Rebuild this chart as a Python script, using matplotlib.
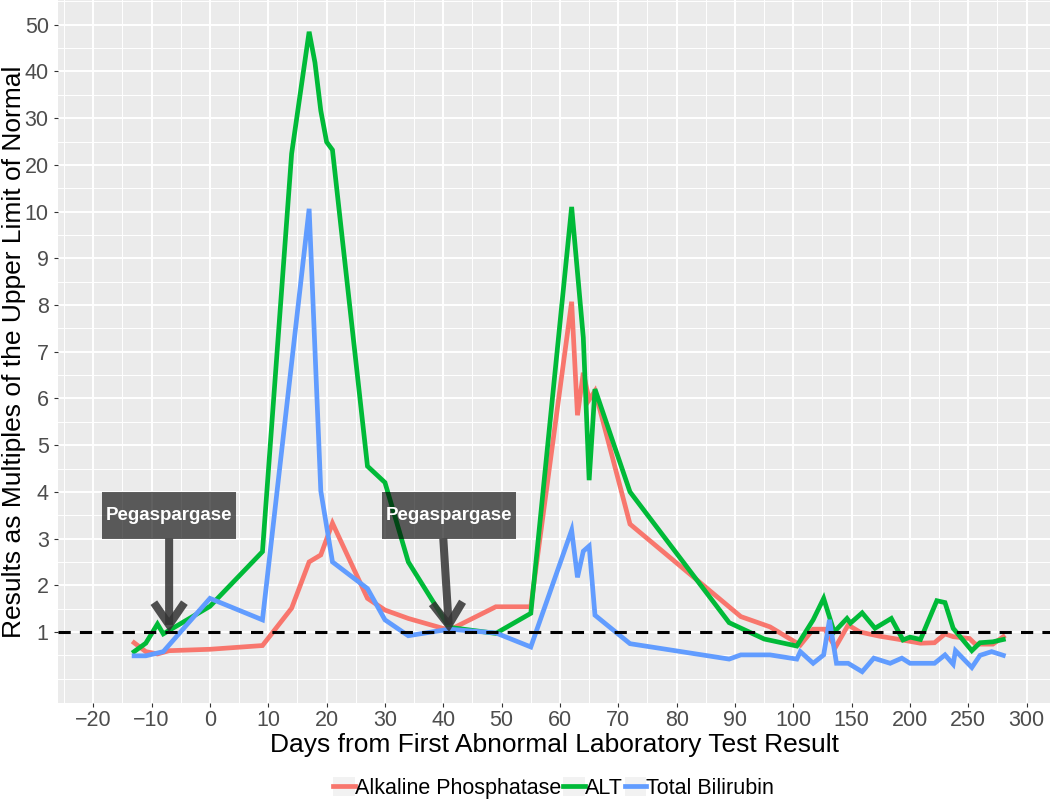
import numpy as np
import matplotlib
matplotlib.use("Agg")
import matplotlib.pyplot as plt
from matplotlib.patches import Rectangle, FancyArrowPatch, Patch, ArrowStyle
from matplotlib.lines import Line2D
from matplotlib.legend_handler import HandlerTuple


# values, in days and multiples of the ULN
alp_days = [-13, -11, -9, -7, 0, 9, 14, 17, 19, 21, 27, 30, 34, 41, 49, 55,
            62, 63, 64, 65, 66, 72, 91, 96, 106, 117, 127, 136, 147, 157,
            174, 191, 209, 221, 230, 237, 251, 256, 271, 280]
alp_vals = [0.77, 0.58, 0.53, 0.6, 0.63, 0.71, 1.51, 2.5, 2.65, 3.33, 1.72,
            1.47, 1.29, 1.04, 1.54, 1.54, 8.07, 5.64, 6.55, 5.97, 6.16, 3.31,
            1.33, 1.11, 0.72, 1.06, 1.06, 0.67, 1.15, 1.0, 0.91, 0.84, 0.76,
            0.77, 0.96, 0.9, 0.86, 0.74, 0.74, 0.9]

alt_days = [-13, -11, -9, -8, 0, 9, 14, 17, 18, 19, 20, 21, 27, 30, 34, 41,
            49, 55, 62, 64, 65, 66, 72, 89, 95, 103, 117, 126, 135, 146, 149,
            159, 170, 184, 194, 200, 209, 223, 230, 237, 253, 260, 271, 280]
alt_vals = [0.58, 0.76, 1.17, 0.96, 1.55, 2.72, 22.4, 48.5, 41.9, 31.6, 24.9,
            23.2, 4.55, 4.2, 2.5, 1.1, 0.97, 1.4, 11.0, 7.3, 4.25, 6.2, 4.0,
            1.2, 0.85, 0.7, 1.26, 1.72, 1.0, 1.29, 1.19, 1.41, 1.08, 1.29,
            0.83, 0.89, 0.84, 1.67, 1.63, 1.08, 0.6, 0.77, 0.79, 0.84]

bili_days = [-13, -11, -8, 0, 9, 17, 19, 21, 27, 30, 34, 41, 49, 55, 62, 63,
             64, 65, 66, 72, 89, 91, 96, 103, 106, 117, 126, 131, 137, 147,
             159, 169, 183, 193, 200, 221, 230, 237, 239, 253, 260, 270, 280]
bili_vals = [0.49, 0.49, 0.58, 1.72, 1.26, 10.6, 4.02, 2.5, 1.93, 1.26, 0.92,
             1.06, 0.98, 0.68, 3.18, 2.17, 2.73, 2.84, 1.36, 0.75, 0.42, 0.51,
             0.51, 0.42, 0.58, 0.33, 0.51, 1.26, 0.33, 0.33, 0.15, 0.44, 0.33,
             0.44, 0.33, 0.33, 0.51, 0.31, 0.6, 0.24, 0.5, 0.58, 0.5]

series_names = ["Alkaline Phosphatase", "ALT", "Total Bilirubin"]
series_colors = ["#F8766D", "#00BA38", "#619CFF"]

x_major = [-20, -10, 0, 10, 20, 30, 40, 50, 60, 70, 80, 90, 100, 150, 200, 250, 300]
x_minor = [-25, -15, -5, 5, 15, 25, 35, 45, 55, 65, 75, 85, 95, 125, 175, 225, 275]
y_major = [1, 2, 3, 4, 5, 6, 7, 8, 9, 10, 20, 30, 40, 50]
y_minor = [0, 0.5, 1.5, 2.5, 3.5, 4.5, 5.5, 6.5, 7.5, 8.5, 9.5, 15, 25, 35, 45, 55]

# pegaspargase doses: (shaft start day, arrow tip day)
peg_arrows = [(-7, -7), (40, 41)]
peg_label_days = [-7, 41]

FONT = "Liberation Sans"
plt.rcParams["font.family"] = [FONT, "DejaVu Sans"]


# broken axes: days past 100 and values past 10 are compressed
def fwd_x(x):
    x = np.asarray(x, dtype=float)
    return np.where(x <= 100, x, 100 + (x - 100) / 5.0)


def inv_x(t):
    t = np.asarray(t, dtype=float)
    return np.where(t <= 100, t, 100 + (t - 100) * 5.0)


def fwd_y(y):
    y = np.asarray(y, dtype=float)
    return np.where(y <= 10, y, 10 + (y - 10) / 10.0)


def inv_y(t):
    t = np.asarray(t, dtype=float)
    return np.where(t <= 10, t, 10 + (t - 10) * 10.0)


fig = plt.figure(figsize=(10.5, 8.01), dpi=100)
ax = fig.add_axes([57.7 / 1050, 98 / 801, (1050 - 57.7) / 1050, 703 / 801])
ax.set_facecolor("#EBEBEB")
for s in ax.spines.values():
    s.set_visible(False)

ax.set_xscale("function", functions=(fwd_x, inv_x))
ax.set_yscale("function", functions=(fwd_y, inv_y))
ax.set_xlim(-26.1, 320)
ax.set_ylim(-0.52, 55.3)

ax.set_xticks(x_major, labels=[str(v).replace("-", "\u2212") for v in x_major])
ax.set_xticks(x_minor, minor=True)
ax.set_yticks(y_major, labels=[str(v) for v in y_major])
ax.set_yticks(y_minor, minor=True)
ax.tick_params(which="major", length=2.9, width=0.8, color="#333333",
               labelcolor="#4D4D4D", labelsize=15.5)
ax.tick_params(axis="x", which="major", pad=2.2)
ax.tick_params(axis="y", which="major", pad=3.6)
ax.tick_params(which="minor", length=0)
ax.grid(which="major", color="white", lw=1.4)
ax.grid(which="minor", color="white", lw=0.7)
ax.set_axisbelow(True)

data = [(alp_days, alp_vals), (alt_days, alt_vals), (bili_days, bili_vals)]
for (d, v), c in zip(data, series_colors):
    ax.plot(d, v, color=c, lw=3.4, solid_joinstyle="miter", zorder=3)

ax.axhline(1, color="black", lw=2.2, linestyle=(0, (4, 3)), zorder=4)

# label boxes with arrows
for day in peg_label_days:
    ax.add_patch(Rectangle((day - 11.45, 3.0), 22.9, 1.0, facecolor="black",
                           edgecolor="none", alpha=0.62, zorder=5))
    ax.text(day, 3.5, "Pegaspargase", color="white", fontsize=13.5,
            fontweight="bold", ha="center", va="center", zorder=7)

for x0, x1 in peg_arrows:
    arr = FancyArrowPatch((x0, 3.0), (x1, 1.0),
                          arrowstyle=ArrowStyle("->", head_length=0.8, head_width=0.55),
                          mutation_scale=20, lw=5.8, color="#333333", alpha=0.85,
                          shrinkA=0, shrinkB=0, joinstyle="miter", capstyle="butt",
                          zorder=6)
    ax.add_patch(arr)

fig.text(554 / 1050, 1 - 745 / 801, "Days from First Abnormal Laboratory Test Result",
         fontsize=19, ha="center", va="center")
fig.text(14 / 1050, 1 - 351.5 / 801, "Results as Multiples of the Upper Limit of Normal",
         fontsize=19, rotation=90, ha="center", va="center")

handles = [(Patch(facecolor="#F2F2F2", edgecolor="none"),
            Line2D([], [], color=c, lw=3.4)) for c in series_colors]
fig.legend(handles, series_names, loc="center",
           bbox_to_anchor=(553.8 / 1050, 1 - 788 / 801), ncol=3, frameon=False,
           fontsize=15.5, handlelength=1.0, handleheight=1.0, handletextpad=0.0,
           columnspacing=0.1, borderpad=0, borderaxespad=0,
           handler_map={tuple: HandlerTuple(ndivide=1)})

fig.savefig("out.png", dpi=100)
